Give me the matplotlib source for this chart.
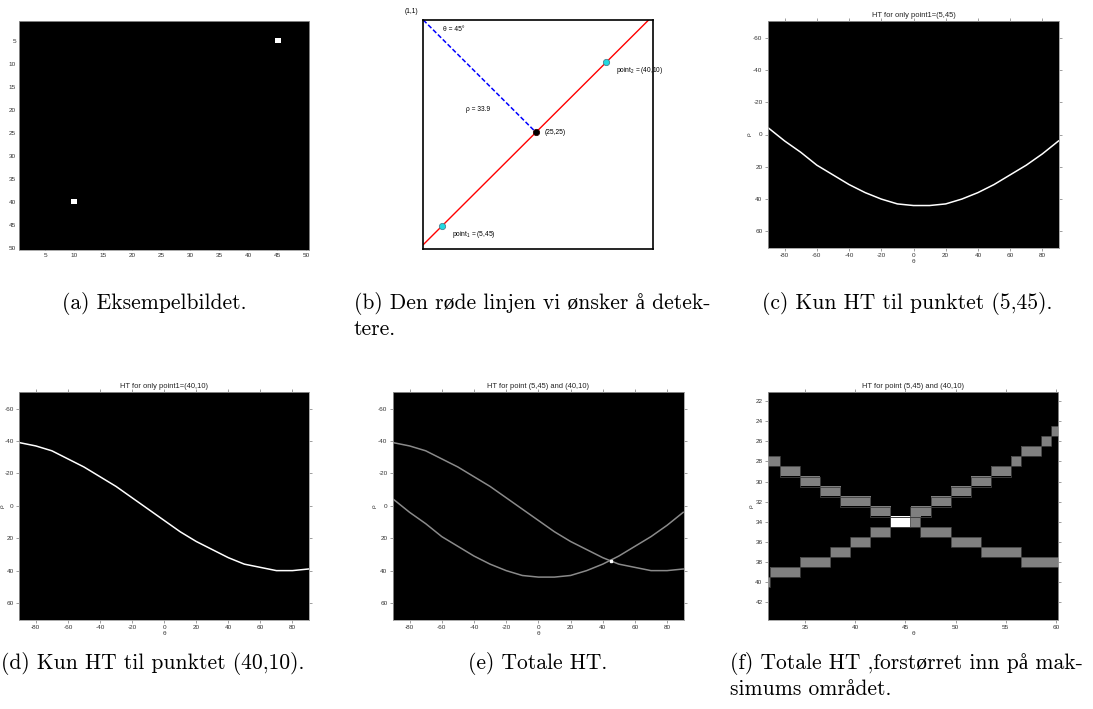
import numpy as np
import matplotlib
matplotlib.use("Agg")
import matplotlib.pyplot as plt
from matplotlib.patches import Rectangle

plt.rcParams['font.family'] = ['Liberation Sans', 'DejaVu Sans']
plt.rcParams['mathtext.fontset'] = 'custom'
plt.rcParams['mathtext.rm'] = 'Liberation Sans'
plt.rcParams['mathtext.it'] = 'Liberation Sans:italic'
plt.rcParams['axes.unicode_minus'] = False

# ---- data ----
# (a) the two white pixels in the 50x50 test image (column, row)
pixel_cols = [45, 10]
pixel_rows = [5, 40]

# (b) the line we want to find and the marked points
red_line_x = [1, 49]
red_line_y = [49, 1]
normal_x = [1, 25]
normal_y = [1, 25]
point1 = (5, 45)
point2 = (40, 10)
foot = (25, 25)

# (c)-(e) Hough curves, rho per theta
theta_full = [-90, -80, -70, -60, -50, -40, -30, -20, -10, 0,
              10, 20, 30, 40, 50, 60, 70, 80, 90]
rho_p1 = [-4, 4, 11, 19, 25, 31, 36, 40, 43, 44,
          44, 43, 40, 36, 31, 25, 19, 12, 4]
rho_p2 = [-39, -37, -34, -29, -24, -18, -12, -5, 2, 9,
          16, 22, 27, 32, 36, 38, 40, 40, 39]
peak = (45, 34)

# (f) accumulator cells in the zoomed window
theta_zoom = list(range(31, 61))
rho1_zoom = [40, 39, 39, 39, 38, 38, 38, 37, 37, 36, 36, 35, 35, 34, 34,
             33, 33, 32, 32, 31, 31, 30, 30, 29, 29, 28, 27, 27, 26, 25]
rho2_zoom = [28, 28, 29, 29, 30, 30, 31, 31, 32, 32, 32, 33, 33, 34, 34,
             34, 35, 35, 35, 36, 36, 36, 37, 37, 37, 37, 38, 38, 38, 38]

captions = [
    (62, 292, "(a) Eksempelbildet."),
    (354, 292, "(b) Den røde linjen vi ønsker å detek-\ntere."),
    (762, 292, "(c) Kun HT til punktet (5,45)."),
    (1, 652, "(d) Kun HT til punktet (40,10)."),
    (468, 652, "(e) Totale HT."),
    (730, 652, "(f) Totale HT ,forstørret inn på mak-\nsimums området."),
]

W, H = 1093, 709
fig = plt.figure(figsize=(W / 100, H / 100), dpi=100)


def px_axes(x0, y0, x1, y1):
    return fig.add_axes([x0 / W, 1 - y1 / H, (x1 - x0) / W, (y1 - y0) / H])


TICK = 4.6


def style_ht(ax, title):
    ax.set_facecolor('black')
    for s in ax.spines.values():
        s.set_color('#9a9a9a')
        s.set_linewidth(0.6)
    ax.tick_params(direction='out', length=2.2, width=0.5, colors='#777777',
                   labelcolor='#333333', labelsize=TICK, pad=1.5,
                   top=True, right=True)
    ax.set_title(title, fontsize=5.4, pad=3, color='#222222')
    ax.set_xlabel('θ', fontsize=TICK, labelpad=0.5, color='#333333')
    ax.set_ylabel('ρ', fontsize=TICK, labelpad=1, color='#333333')


def outline_runs(ax, thetas, rhos):
    start = 0
    for k in range(1, len(thetas) + 1):
        if k == len(thetas) or rhos[k] != rhos[start]:
            ax.add_patch(Rectangle((thetas[start] - 0.5, rhos[start] - 0.5),
                                   k - start, 1, fill=False,
                                   edgecolor='#404040', lw=0.6))
            start = k


# (a)
ax = px_axes(19, 20.7, 309.3, 250)
img = np.zeros((50, 50))
for c, r in zip(pixel_cols, pixel_rows):
    img[r - 1, c - 1] = 1
ax.imshow(img, cmap='gray', vmin=0, vmax=1, interpolation='nearest',
          extent=(0.5, 50.5, 50.5, 0.5), aspect='auto')
ax.set_xticks(range(5, 51, 5))
ax.set_yticks(range(5, 51, 5))
ax.tick_params(direction='in', length=2, colors='black', labelcolor='#333333',
               labelsize=TICK, pad=2)
for s in ax.spines.values():
    s.set_color('#9a9a9a')
    s.set_linewidth(0.6)

# (b)
ax = px_axes(423.3, 20, 653.3, 249.3)
ax.plot(red_line_x, red_line_y, color='red', lw=1.0)
ax.plot(normal_x, normal_y, color='blue', lw=1.1, ls=(0, (3, 1.5)))
ax.plot([point1[0], point2[0]], [point1[1], point2[1]], 'o', ms=4.5,
        mfc='#22d8e0', mec='#4a8090', mew=0.6)
ax.plot([foot[0]], [foot[1]], 'o', ms=4.5, mfc='black', mec='#300000', mew=0.6)
ax.set_xlim(1, 50)
ax.set_ylim(50, 1)
ax.set_xticks([])
ax.set_yticks([])
for s in ax.spines.values():
    s.set_color('black')
    s.set_linewidth(1.2)
fs = 4.8
ax.text(-2.9, -0.9, '(1,1)', fontsize=fs, va='center', clip_on=False)
ax.text(5.1, 3.1, 'θ = 45°', fontsize=fs, va='center')
ax.text(10.1, 20.1, 'ρ = 33.9', fontsize=fs, va='center')
ax.text(26.9, 25.1, '(%d,%d)' % foot, fontsize=fs, va='center')
ax.text(42.0, 11.8, 'point$_2$ = (%d,%d)' % point2, fontsize=fs, va='center')
ax.text(7.1, 46.9, 'point$_1$ = (%d,%d)' % point1, fontsize=fs, va='center')

# (c)
ax = px_axes(767.7, 20.7, 1059.3, 248.3)
ax.plot(theta_full, rho_p1, color='white', lw=1.1)
ax.set_xlim(-90.5, 90.5)
ax.set_ylim(70.5, -70.5)
ax.set_xticks(range(-80, 81, 20))
ax.set_yticks(range(-60, 61, 20))
style_ht(ax, 'HT for only point1=(5,45)')

# (d)
ax = px_axes(19, 391.7, 309.3, 620)
ax.plot(theta_full, rho_p2, color='white', lw=1.1)
ax.set_xlim(-90.5, 90.5)
ax.set_ylim(70.5, -70.5)
ax.set_xticks(range(-80, 81, 20))
ax.set_yticks(range(-60, 61, 20))
style_ht(ax, 'HT for only point1=(40,10)')
ax.yaxis.set_label_coords(-0.048, 0.5)

# (e)
ax = px_axes(392.7, 391.7, 684, 620)
ax.plot(theta_full, rho_p1, color='#8a8a8a', lw=1.1)
ax.plot(theta_full, rho_p2, color='#8a8a8a', lw=1.1)
ax.plot([peak[0]], [peak[1]], 's', ms=2, color='white')
ax.set_xlim(-90.5, 90.5)
ax.set_ylim(70.5, -70.5)
ax.set_xticks(range(-80, 81, 20))
ax.set_yticks(range(-60, 61, 20))
style_ht(ax, 'HT for point (5,45) and (40,10)')

# (f)
ax = px_axes(767.7, 391.7, 1058.3, 620)
rho_lo, rho_hi = 20, 44
acc = np.zeros((rho_hi - rho_lo + 1, len(theta_zoom)))
for j, (r1, r2) in enumerate(zip(rho1_zoom, rho2_zoom)):
    acc[r1 - rho_lo, j] += 1
    acc[r2 - rho_lo, j] += 1
ax.imshow(acc, cmap='gray', vmin=0, vmax=2, interpolation='nearest',
          extent=(theta_zoom[0] - 0.5, theta_zoom[-1] + 0.5,
                  rho_hi + 0.5, rho_lo - 0.5), aspect='auto')
outline_runs(ax, theta_zoom, rho1_zoom)
outline_runs(ax, theta_zoom, rho2_zoom)
ax.set_xlim(31.28, 60.23)
ax.set_ylim(43.75, 21.07)
ax.set_xticks(range(35, 61, 5))
ax.set_yticks(range(22, 43, 2))
style_ht(ax, 'HT for point (5,45) and (40,10)')

for x, y, s in captions:
    fig.text(x / W, 1 - y / H, s, fontsize=15.5,
             family=['cmr10', 'Liberation Serif'],
             va='top', ha='left', linespacing=1.3)

fig.savefig('out.png', dpi=100)
